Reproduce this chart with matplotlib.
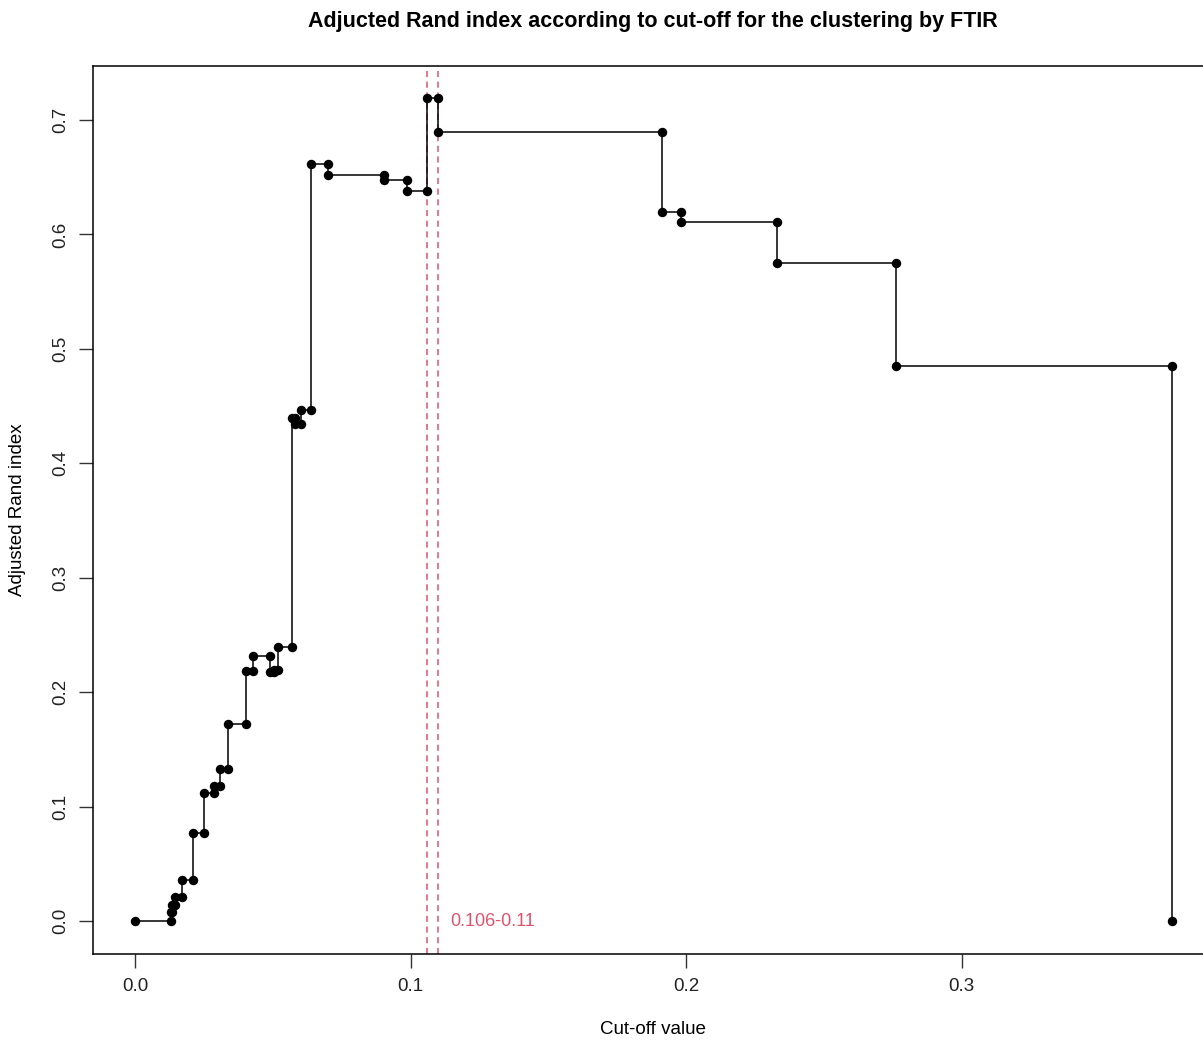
import matplotlib
matplotlib.use("Agg")
import matplotlib.pyplot as plt

plt.rcParams['font.family'] = ['Liberation Sans', 'DejaVu Sans']

# cut-off values and adjusted Rand index (staircase path)
cutoff = [0.0, 0.0129, 0.0129, 0.0136, 0.0136, 0.0145, 0.0145, 0.0169, 0.0169, 0.0209,
          0.0209, 0.0252, 0.0252, 0.0287, 0.0287, 0.0309, 0.0309, 0.0339, 0.0339, 0.0402,
          0.0402, 0.0429, 0.0429, 0.0490, 0.0490, 0.0504, 0.0504, 0.0519, 0.0519, 0.0570,
          0.0570, 0.0579, 0.0579, 0.0602, 0.0602, 0.0640, 0.0640, 0.0702, 0.0702, 0.0902,
          0.0902, 0.0986, 0.0986, 0.1059, 0.1059, 0.1101, 0.1101, 0.1912, 0.1912, 0.1981,
          0.1981, 0.2329, 0.2329, 0.2762, 0.2762, 0.3763, 0.3763]
ari = [0.0, 0.0, 0.0079, 0.0079, 0.0140, 0.0140, 0.0210, 0.0210, 0.0358, 0.0358,
       0.0772, 0.0772, 0.1116, 0.1116, 0.1184, 0.1184, 0.1326, 0.1326, 0.1722, 0.1722,
       0.2185, 0.2185, 0.2318, 0.2318, 0.2180, 0.2180, 0.2198, 0.2198, 0.2397, 0.2397,
       0.4393, 0.4393, 0.4343, 0.4343, 0.4468, 0.4468, 0.6613, 0.6613, 0.6519, 0.6519,
       0.6476, 0.6476, 0.6382, 0.6382, 0.7189, 0.7189, 0.6898, 0.6898, 0.6193, 0.6193,
       0.6111, 0.6111, 0.5747, 0.5747, 0.4850, 0.4850, 0.0]
best = [0.106, 0.11]
best_label = "0.106-0.11"
xticks = [0.0, 0.1, 0.2, 0.3]
yticks = [0.0, 0.1, 0.2, 0.3, 0.4, 0.5, 0.6, 0.7]

fig = plt.figure(figsize=(12.03, 10.4), dpi=100)
ax = fig.add_axes([93/1203, 1-954/1040, (1215-93)/1203, (954-66)/1040])

red = "#DF536B"
for v in best:
    ax.axvline(v, color=red, ls=(0, (4, 3)), lw=1.1, zorder=1)
ax.plot(cutoff, ari, "-o", color="black", lw=1.1, ms=5.8, zorder=2)
ax.text(0.1143, 0.0, best_label, color=red, fontsize=13, va="center", ha="left")

ax.set_xlim(-0.01525, 0.392)
ax.set_ylim(-0.0288, 0.7472)
ax.set_xticks(xticks)
ax.set_xticklabels([f"{t:.1f}" for t in xticks])
ax.set_yticks(yticks)
ax.set_yticklabels([f"{t:.1f}" for t in yticks], rotation=90, va="center")
ax.tick_params(length=10, width=1, labelsize=13.5, pad=7, color="#333333", labelcolor="#222222")
for s in ax.spines.values():
    s.set_linewidth(1.1)

fig.text(653/1203, 1-1030/1040, "Cut-off value", fontsize=13.5, ha="center", va="center")
fig.text(18/1203, 1-510/1040, "Adjusted Rand index", fontsize=13.5, ha="center", va="center",
         rotation=90)
fig.text(653/1203, 1-22/1040, "Adjucted Rand index according to cut-off for the clustering by FTIR",
         ha="center", va="center", fontsize=15.5, fontweight="bold")

fig.savefig("out.png", dpi=100)
